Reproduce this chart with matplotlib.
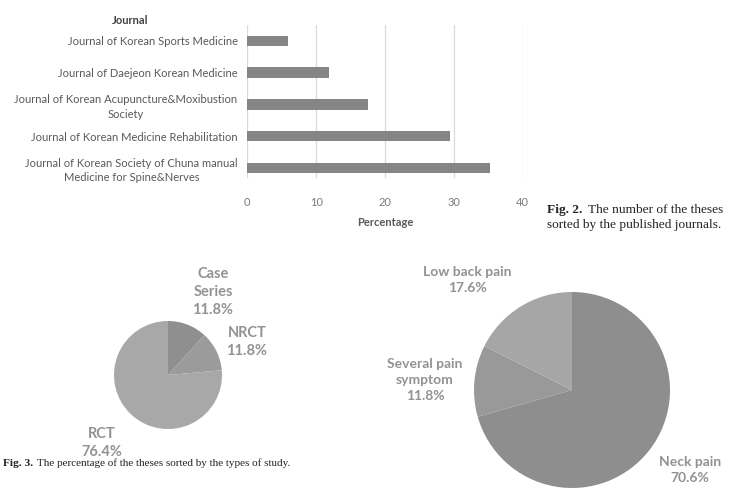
import matplotlib.pyplot as plt

plt.rcParams['font.family'] = ['Lato', 'DejaVu Sans']

W, H = 731, 497

# Fig. 2 data: percentage of theses per journal
journals = [
    'Journal of Korean Society of Chuna manual\nMedicine for Spine&Nerves',
    'Journal of Korean Medicine Rehabilitation',
    'Journal of Korean Acupuncture&Moxibustion\nSociety',
    'Journal of Daejeon Korean Medicine',
    'Journal of Korean Sports Medicine',
]
journal_pct = [35.3, 29.4, 17.6, 11.8, 5.9]
x_ticks = [0, 10, 20, 30, 40]

# Fig. 3 data: types of study
study_types = ['Case Series', 'NRCT', 'RCT']
study_pct = [11.8, 11.8, 76.4]

# pain types
pain_types = ['Neck pain', 'Several pain\nsymptom', 'Low back pain']
pain_pct = [70.6, 11.8, 17.6]

label_gray = '#595959'
pie_text = '#929292'


def px_axes(fig, left, top, right, bottom):
    return fig.add_axes([left / W, 1 - bottom / H, (right - left) / W, (bottom - top) / H])


fig = plt.figure(figsize=(W / 100, H / 100), dpi=100)

# ---- horizontal bar chart
ax = px_axes(fig, 247.3, 25, 522.7, 178)
ypos = list(range(len(journals)))
ax.barh(ypos, journal_pct, height=0.33, color='#858585', zorder=3)
ax.set_xlim(0, 40)
ax.set_ylim(-0.32, 4.5)
ax.set_xticks(x_ticks)
ax.set_yticks(ypos)
ax.set_yticklabels(journals, fontsize=8, color=label_gray, linespacing=1.4)
for t in ax.get_yticklabels():
    t.set_multialignment('center')
ax.tick_params(axis='y', length=0, pad=7)
ax.tick_params(axis='x', length=0, pad=14, labelsize=8, labelcolor='#7a7a7a')
ax.grid(axis='x', color='#d9d9d9', linewidth=0.9, zorder=0)
for s in ax.spines.values():
    s.set_visible(False)
ax.set_xlabel('Percentage', fontsize=8, fontweight='bold', color=label_gray, labelpad=6)
fig.text(130 / W, 1 - 20 / H, 'Journal', fontsize=8, fontweight='bold', color='#404040',
         ha='center', va='center')

# captions
serif = ['Liberation Serif', 'DejaVu Serif']
t2 = fig.text(547 / W, 1 - 210 / H, 'Fig. 2.', family=serif, fontsize=9.6, fontweight='bold',
              color='#222222', va='center')
ax.annotate('The number of the theses', xy=(1, 0), xycoords=t2, xytext=(4, 0),
            textcoords='offset points', va='bottom', family=serif, fontsize=9.6,
            color='#222222', annotation_clip=False)
fig.text(547 / W, 1 - 225 / H, 'sorted by the published journals.', family=serif, fontsize=9.6,
         color='#222222', va='center')

t3 = fig.text(3 / W, 1 - 463 / H, 'Fig. 3.', family=serif, fontsize=8.2, fontweight='bold',
              color='#222222', va='center')
ax.annotate('The percentage of the theses sorted by the types of study.', xy=(1, 0), xycoords=t3,
            xytext=(3, 0), textcoords='offset points', va='bottom', family=serif, fontsize=8,
            color='#222222', annotation_clip=False)

# ---- pie: types of study
cx1, cy1, r1 = 168, 375, 54
pa = px_axes(fig, cx1 - r1, cy1 - r1, cx1 + r1, cy1 + r1)
pa.pie(study_pct, colors=['#8f8f8f', '#9b9b9b', '#a8a8a8'], startangle=90, counterclock=False,
       radius=1, wedgeprops=dict(linewidth=0))
pa.set_xlim(-1, 1)
pa.set_ylim(-1, 1)
pa.axis('off')
study_label_pos = [(213, 292), (247, 342), (102, 443)]
for name, pct, (lx, ly) in zip(study_types, study_pct, study_label_pos):
    txt = name.replace(' ', '\n') + f'\n{pct:.1f}%'
    fig.text(lx / W, 1 - ly / H, txt, fontsize=10.5, fontweight='bold', color=pie_text,
             ha='center', va='center', linespacing=1.35)

# ---- pie: pain types
cx2, cy2, r2 = 572, 390, 98
pb = px_axes(fig, cx2 - r2, cy2 - r2, cx2 + r2, cy2 + r2)
pb.pie(pain_pct, colors=['#8e8e8e', '#999999', '#a6a6a6'], startangle=90, counterclock=False,
       radius=1, wedgeprops=dict(linewidth=0))
pb.set_xlim(-1, 1)
pb.set_ylim(-1, 1)
pb.axis('off')
pain_label_pos = [(690, 470), (425, 380), (467, 280)]
for name, pct, (lx, ly) in zip(pain_types, pain_pct, pain_label_pos):
    fig.text(lx / W, 1 - ly / H, f'{name}\n{pct:.1f}%', fontsize=10, fontweight='bold',
             color=pie_text, ha='center', va='center', linespacing=1.35)

fig.savefig('out.png', dpi=100)
